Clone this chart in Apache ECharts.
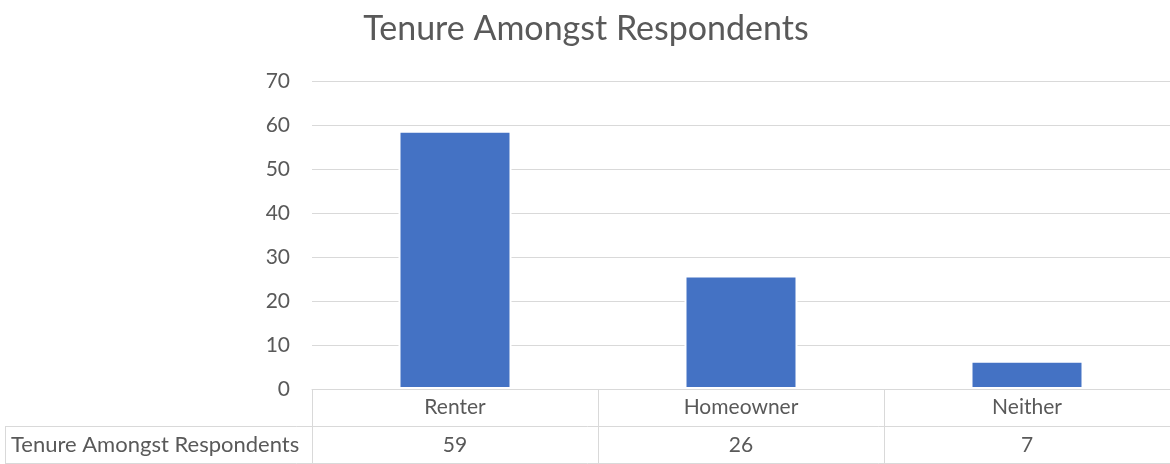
<!DOCTYPE html>
<html>
<head>
<meta charset="utf-8">
<script src="https://cdn.jsdelivr.net/npm/echarts@6/dist/echarts.min.js"></script>
<style>
html,body{margin:0;padding:0;background:#fff;}
#chart{width:1170px;height:464px;}
</style>
</head>
<body>
<div id="chart"></div>
<script>
const titleText = 'Tenure Amongst Respondents';
const seriesName = 'Tenure Amongst Respondents';
const categories = ['Renter', 'Homeowner', 'Neither'];
const values = [58.7, 25.8, 6.4];
const tableLabels = ['59', '26', '7'];
const yTicks = {min: 0, max: 70, interval: 10};

const FONT = 'Lato';
const TXT = '#595959';
const LINE = '#d9d9d9';
const LBL = 21;

const chart = echarts.init(document.getElementById('chart'), null, {renderer: 'canvas'});
chart.setOption({
  animation: false,
  backgroundColor: '#fff',
  textStyle: {fontFamily: FONT},
  title: {
    text: titleText,
    left: 581, top: 7, textAlign: 'center',
    textStyle: {fontFamily: FONT, fontSize: 34, fontWeight: 'normal', color: TXT}
  },
  grid: {left: 312, right: 0, top: 81, bottom: 75, containLabel: false},
  xAxis: {
    type: 'category',
    data: categories,
    axisLine: {show: true, lineStyle: {color: LINE, width: 1}},
    axisTick: {show: true, length: 75, lineStyle: {color: LINE, width: 1}},
    axisLabel: {
      margin: 0,
      fontFamily: FONT, fontSize: LBL, color: TXT,
      formatter: function (v, i) { return '{c|' + v + '}\n{v|' + tableLabels[i] + '}'; },
      rich: {
        c: {fontFamily: FONT, fontSize: LBL, color: TXT, lineHeight: 37},
        v: {fontFamily: FONT, fontSize: LBL, color: TXT, lineHeight: 39}
      }
    }
  },
  yAxis: {
    type: 'value',
    min: yTicks.min, max: yTicks.max, interval: yTicks.interval,
    axisLine: {show: false},
    axisTick: {show: false},
    axisLabel: {margin: 22, fontFamily: FONT, fontSize: LBL, color: TXT},
    splitLine: {lineStyle: {color: LINE, width: 1}}
  },
  series: [{
    name: seriesName,
    type: 'bar',
    data: values,
    barWidth: 113,
    itemStyle: {color: '#4472C4', borderColor: '#ffffff', borderWidth: 2}
  }],
  graphic: [
    {type: 'line', shape: {x1: 5, y1: 426.5, x2: 1170, y2: 426.5}, style: {stroke: LINE, lineWidth: 1}},
    {type: 'line', shape: {x1: 5, y1: 463.5, x2: 1170, y2: 463.5}, style: {stroke: LINE, lineWidth: 1}},
    {type: 'line', shape: {x1: 5.5, y1: 426, x2: 5.5, y2: 464}, style: {stroke: LINE, lineWidth: 1}},
    {type: 'text', left: 11, top: 434, style: {text: seriesName, fontFamily: FONT, fontSize: 22, fill: TXT}}
  ]
});
</script>
</body>
</html>
